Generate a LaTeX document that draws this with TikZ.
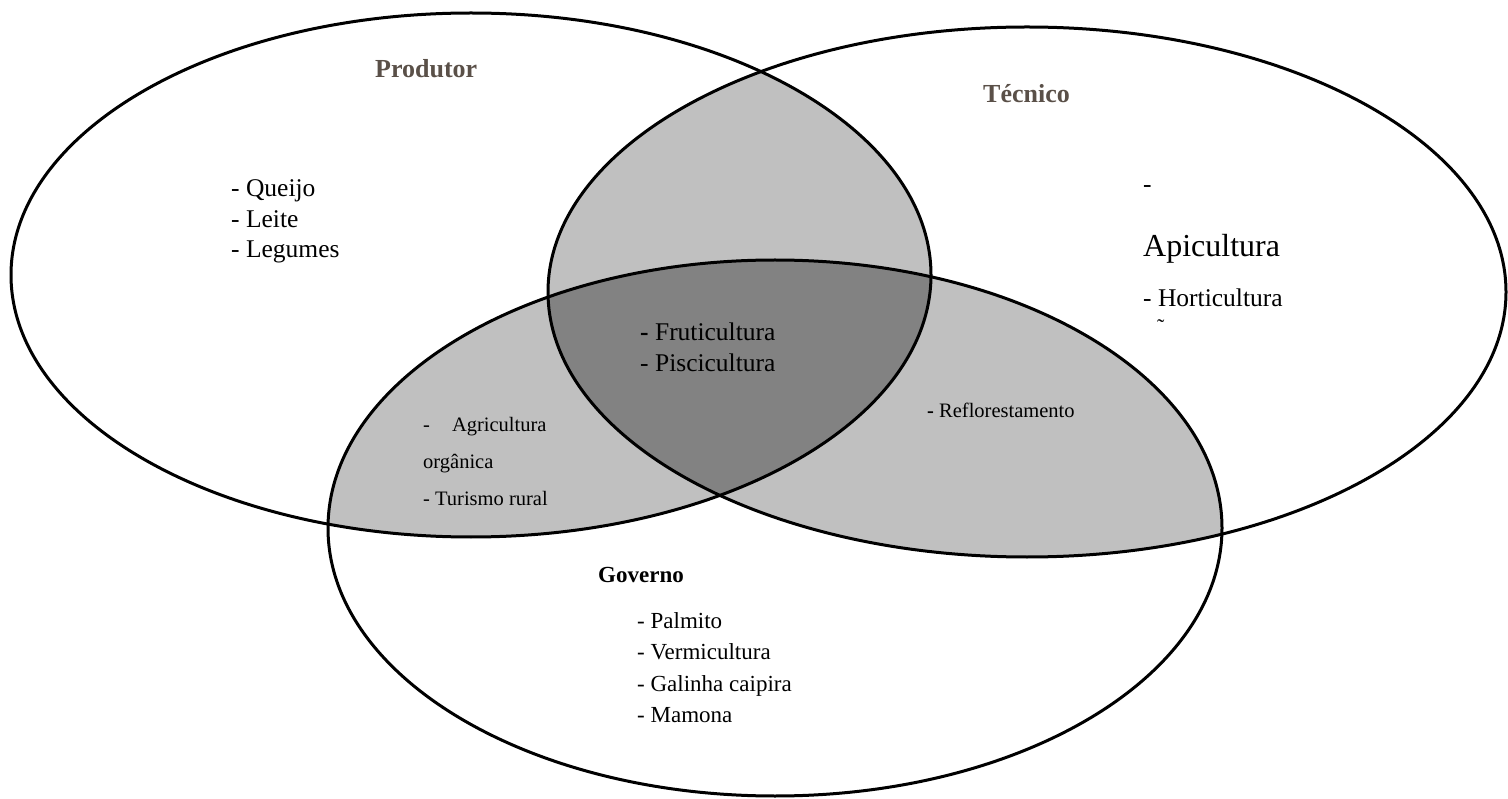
\documentclass[tikz,border=0pt]{standalone}
\usepackage{fontspec}
\setmainfont{Liberation Serif}
\definecolor{lightfill}{RGB}{192,192,192}
\definecolor{darkfill}{RGB}{130,130,130}
\definecolor{headbrown}{RGB}{90,80,72}
\begin{document}
\begin{tikzpicture}[x=1pt,y=-1pt,
  ring/.style={draw=black,line width=3pt},
  txt/.style={inner sep=0pt,anchor=base west,text=black},
  head/.style={txt,font=\fontsize{26}{30}\selectfont\bfseries,text=headbrown},
  itemA/.style={txt,font=\fontsize{25.5}{30}\selectfont},
  itemB/.style={txt,font=\fontsize{23}{30}\selectfont},
  itemC/.style={txt,font=\fontsize{20.5}{24}\selectfont}]
\useasboundingbox (0,0) rectangle (1508,799);
\fill[white] (0,0) rectangle (1508,799);

% set outlines
\def\produtor{(471,275) ellipse [x radius=460,y radius=262]}
\def\tecnico{(1027,292) ellipse [x radius=479,y radius=265]}
\def\governo{(775,528) ellipse [x radius=447,y radius=268]}

% pairwise overlaps
\begin{scope}
  \clip \produtor; \fill[lightfill] \tecnico;
\end{scope}
\begin{scope}
  \clip \produtor; \fill[lightfill] \governo;
\end{scope}
\begin{scope}
  \clip \tecnico; \fill[lightfill] \governo;
\end{scope}
% common core
\begin{scope}
  \clip \produtor; \clip \tecnico; \fill[darkfill] \governo;
\end{scope}

\draw[ring] \produtor;
\draw[ring] \tecnico;
\draw[ring] \governo;

% Produtor
\node[head] (hprod) at (375,78) {Produtor};
\node[itemA] (q1) at (231,197) {- Queijo};
\node[itemA] (q2) at (231,228) {- Leite};
\node[itemA] (q3) at (231,258) {- Legumes};

% Técnico
\node[head] (htec) at (983,103) {Técnico};
\node[itemA] (t0) at (1143,193) {-};
\node[txt,font=\fontsize{32}{36}\selectfont] (t1) at (1143,257) {Apicultura};
\node[itemA] (t2) at (1143,307) {- Horticultura};
\node[txt,font=\fontsize{22}{26}\selectfont] (t3) at (1157,335) {\char"02DC};

% center
\node[itemA] (c1) at (640,341) {\textbf{-} Fruticultura};
\node[itemA] (c2) at (640,372) {- Piscicultura};

% Produtor and Governo
\node[itemC] (a1) at (423,432) {-\hspace{22pt}Agricultura};
\node[itemC] (a2) at (423,468) {orgânica};
\node[itemC] (a3) at (423,505) {- Turismo rural};

% Técnico and Governo
\node[itemC] (r1) at (927,418) {\textbf{-} Reflorestamento};

% Governo
\node[txt,font=\fontsize{23}{28}\selectfont\bfseries] (hgov) at (598,582) {Governo};
\node[itemB] (g1) at (637,628) {- Palmito};
\node[itemB] (g2) at (637,659) {- Vermicultura};
\node[itemB] (g3) at (637,691) {- Galinha caipira};
\node[itemB] (g4) at (637,722) {- Mamona};
\end{tikzpicture}
\end{document}
